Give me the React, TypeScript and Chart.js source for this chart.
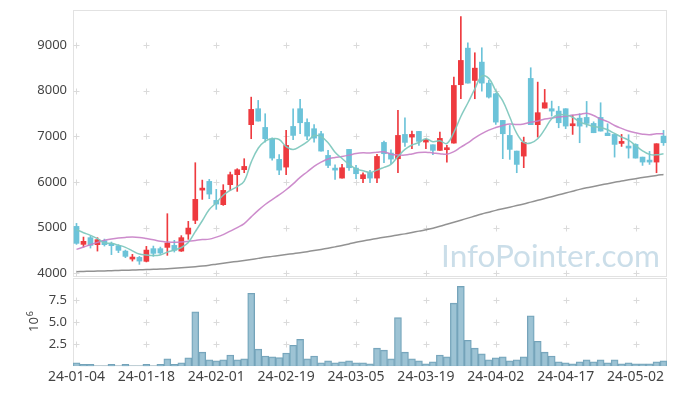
import React, { useEffect, useRef } from "react";
import { Chart, registerables } from "chart.js";

Chart.register(...registerables);

const dates = [
  "24-01-04","24-01-05","24-01-08","24-01-09","24-01-10","24-01-11","24-01-12","24-01-15","24-01-16","24-01-17",
  "24-01-18","24-01-19","24-01-22","24-01-23","24-01-24","24-01-25","24-01-26","24-01-29","24-01-30","24-01-31",
  "24-02-01","24-02-02","24-02-05","24-02-06","24-02-07","24-02-08","24-02-13","24-02-14","24-02-15","24-02-16",
  "24-02-19","24-02-20","24-02-21","24-02-22","24-02-23","24-02-26","24-02-27","24-02-28","24-02-29","24-03-04",
  "24-03-05","24-03-06","24-03-07","24-03-08","24-03-11","24-03-12","24-03-13","24-03-14","24-03-15","24-03-18",
  "24-03-19","24-03-20","24-03-21","24-03-22","24-03-25","24-03-26","24-03-27","24-03-28","24-03-29","24-04-01",
  "24-04-02","24-04-03","24-04-04","24-04-05","24-04-08","24-04-09","24-04-11","24-04-12","24-04-15","24-04-16",
  "24-04-17","24-04-18","24-04-19","24-04-22","24-04-23","24-04-24","24-04-25","24-04-26","24-04-29","24-04-30",
  "24-05-02","24-05-03","24-05-07","24-05-08","24-05-09"
];

const opens = [
  5029,4635,4782,4628,4716,4650,4607,4488,4313,4350,
  4263,4541,4541,4569,4613,4488,4861,5161,5824,6015,
  5599,5505,5943,6162,6271,7257,7607,7197,6950,6497,
  6328,7219,7607,7307,7169,7059,6584,6306,6087,6716,
  6306,6074,6205,6087,6869,6635,6511,7044,6985,7110,
  6876,6818,6694,6709,6854,8133,8934,8227,8628,8168,
  7935,7351,7022,6679,6569,8271,7257,7620,7607,7555,
  7607,7234,7401,7416,7285,7416,7073,7044,6847,6788,
  6825,6547,6460,6438,7007
];
const highs = [
  5095,4795,4817,4782,4751,4686,4628,4510,4416,4372,
  4591,4598,4576,5307,4723,4826,5139,6424,6043,6059,
  5840,5943,6219,6293,6512,7861,7789,7497,6970,6600,
  7132,7607,7811,7388,7257,7110,6694,6380,6387,6716,
  6365,6205,6255,6606,6897,6709,7570,7410,7116,7110,
  6940,6818,7095,6803,8299,9628,9052,8833,8943,8227,
  7950,7351,7241,6679,6985,8505,8190,8030,7774,7657,
  7607,7460,7497,7767,7320,7738,7278,7044,7044,7037,
  6840,6547,6672,6840,7132
];
const lows = [
  4635,4576,4554,4488,4598,4410,4453,4344,4269,4197,
  4250,4372,4416,4394,4467,4480,4745,5088,5621,5636,
  5402,5489,5811,5796,6205,6950,7336,6876,6480,6162,
  6162,6928,7059,6928,6876,6679,6314,6059,6087,6255,
  6074,5986,5986,5986,6424,6402,6205,6781,6731,6803,
  6731,6600,6694,6438,6854,7826,8168,7826,7992,7840,
  7263,6512,6497,6205,6315,7257,6985,7620,7445,7190,
  7169,7044,6862,7204,7081,7117,7016,6547,6781,6525,
  6525,6365,6387,6205,6803
];
const closes = [
  4657,4701,4613,4738,4628,4607,4504,4372,4357,4269,
  4510,4438,4445,4664,4504,4782,4992,5621,5862,5737,
  5518,5818,6162,6271,6343,7592,7336,6950,6525,6262,
  6803,7022,7300,7007,6963,6679,6365,6262,6314,6314,
  6183,6161,6087,6562,6621,6503,7022,6869,7044,6891,
  6928,6694,6957,6753,8117,8665,8168,8496,8168,7861,
  7314,7059,6716,6387,6869,7257,7520,7738,7555,7300,
  7227,7278,7226,7285,7081,7117,7016,6825,6891,6745,
  6525,6438,6438,6840,6862
];

const ma5 = [
  4957,4891,4832,4760,4667,4657,4618,4570,4494,4422,
  4402,4389,4404,4465,4512,4567,4677,4913,5152,5399,
  5546,5711,5819,5901,6022,6437,6741,6898,6949,6933,
  6775,6712,6782,6879,7019,6994,6863,6655,6517,6387,
  6288,6247,6212,6261,6323,6387,6559,6715,6812,6866,
  6951,6885,6903,6845,7090,7437,7732,8040,8323,8272,
  8001,7780,7424,7067,6869,6858,6950,7154,7388,7474,
  7468,7420,7317,7263,7219,7197,7145,7065,6986,6919,
  6800,6685,6607,6597,6621
];
const ma20 = [
  4526,4576,4628,4679,4723,4751,4773,4788,4795,4788,
  4766,4738,4701,4686,4679,4686,4701,4720,4740,4750,
  4793,4849,4926,5003,5089,5238,5380,5509,5617,5717,
  5831,5960,6103,6220,6343,6438,6507,6539,6561,6590,
  6624,6641,6637,6652,6665,6611,6595,6591,6617,6649,
  6655,6638,6621,6609,6666,6766,6856,6967,7060,7138,
  7194,7239,7270,7262,7274,7312,7337,7380,7406,7426,
  7441,7470,7484,7510,7459,7381,7324,7240,7176,7120,
  7081,7050,7036,7059,7058
];
const ma60 = [
  4037,4042,4046,4050,4054,4058,4063,4068,4073,4078,
  4083,4088,4094,4102,4110,4120,4132,4145,4160,4178,
  4200,4222,4242,4262,4282,4304,4328,4352,4372,4392,
  4412,4432,4452,4475,4500,4525,4552,4580,4610,4645,
  4680,4710,4738,4765,4790,4815,4840,4865,4895,4925,
  4955,4990,5030,5075,5120,5165,5210,5255,5300,5340,
  5380,5415,5450,5485,5520,5560,5600,5640,5680,5720,
  5760,5800,5840,5875,5905,5935,5965,5995,6025,6050,
  6075,6100,6120,6145,6165
];

// volume in millions of shares
const volumes = [
  0.39,0.2,0.2,0.05,0.03,0.2,0.03,0.2,0.05,0.05,
  0.2,0.05,0.2,0.83,0.2,0.39,0.94,6.16,1.6,0.72,
  0.61,0.72,1.27,0.72,0.83,8.27,1.94,1.16,1.05,0.98,
  1.5,2.38,3.05,0.83,1.16,0.39,0.61,0.39,0.5,0.61,
  0.39,0.39,0.27,2.05,1.83,0.83,5.5,1.6,0.83,0.61,
  0.27,0.5,1.27,1.05,7.16,9.05,2.94,2.05,1.39,0.72,
  0.94,1.05,0.61,0.72,1.05,5.72,2.83,1.6,1.16,0.5,
  0.39,0.27,0.5,0.72,0.5,0.72,0.39,0.72,0.27,0.39,
  0.27,0.27,0.27,0.5,0.61
];

const priceTicks = [4000, 5000, 6000, 7000, 8000, 9000];
const volumeTicks = [2.5, 5, 7.5];
const xTickEvery = 10;
const watermark = "InfoPointer.com";
const volumeUnit = "10";
const volumeExp = "6";

const UP = "#ee3a3f";
const DOWN = "#6cc3d9";
const FONT = "'Noto Sans', sans-serif";
const TEXT = "#444";

function framePlugin(id: string, yKey: string, yValues: number[]) {
  return {
    id,
    beforeDatasetsDraw(chart: any) {
      const { ctx, chartArea: a } = chart;
      const xs = chart.scales.x;
      const ys = chart.scales[yKey];
      ctx.save();
      ctx.strokeStyle = "#e2e2e2";
      ctx.lineWidth = 1;
      ctx.strokeRect(Math.round(a.left) + 0.5, Math.round(a.top) + 0.5, Math.round(a.right - a.left) - 1, Math.round(a.bottom - a.top) - 1);
      ctx.strokeStyle = "#dadada";
      for (let i = 0; i < dates.length; i += xTickEvery) {
        const px = Math.round(xs.getPixelForValue(i)) + 0.5;
        for (const v of yValues) {
          const py = Math.round(ys.getPixelForValue(v)) + 0.5;
          ctx.beginPath();
          ctx.moveTo(px - 3, py);
          ctx.lineTo(px + 3, py);
          ctx.moveTo(px, py - 3);
          ctx.lineTo(px, py + 3);
          ctx.stroke();
        }
      }
      ctx.restore();
    },
  };
}

const watermarkPlugin = {
  id: "watermark",
  beforeDatasetsDraw(chart: any) {
    const { ctx, chartArea: a } = chart;
    ctx.save();
    ctx.font = "32px Lato, sans-serif";
    const w = ctx.measureText(watermark).width;
    const size = 32 * 219 / w;
    ctx.font = `${size}px Lato, sans-serif`;
    ctx.fillStyle = "rgba(160,195,215,0.55)";
    ctx.textAlign = "right";
    ctx.textBaseline = "alphabetic";
    ctx.fillText(watermark, a.right - 7, a.bottom - 10);
    ctx.restore();
  },
};

const unitPlugin = {
  id: "unit",
  afterDraw(chart: any) {
    const { ctx } = chart;
    ctx.save();
    ctx.translate(38, 55);
    ctx.rotate(-Math.PI / 2);
    ctx.fillStyle = TEXT;
    ctx.textAlign = "left";
    ctx.textBaseline = "alphabetic";
    ctx.font = `13px ${FONT}`;
    ctx.fillText(volumeUnit, 0, 0);
    const w = ctx.measureText(volumeUnit).width;
    ctx.font = `9px ${FONT}`;
    ctx.fillText(volumeExp, w + 1, -5);
    ctx.restore();
  },
};

export default function App() {
  const priceRef = useRef<HTMLCanvasElement>(null);
  const volRef = useRef<HTMLCanvasElement>(null);

  useEffect(() => {
    const colors = closes.map((c, i) => (c >= opens[i] ? UP : DOWN));
    const fitY = (s: any) => { s.width = 73; s.paddingTop = 0; s.paddingBottom = 0; };

    const price = new Chart(priceRef.current as HTMLCanvasElement, {
      type: "bar",
      data: {
        labels: dates,
        datasets: [
          { type: "line", data: ma5, borderColor: "rgba(128,200,190,0.95)", borderWidth: 1.5, pointRadius: 0, tension: 0.4, order: 1 } as any,
          { type: "line", data: ma20, borderColor: "rgba(200,128,198,0.9)", borderWidth: 1.5, pointRadius: 0, tension: 0.4, order: 1 } as any,
          { type: "line", data: ma60, borderColor: "rgba(140,140,140,0.95)", borderWidth: 1.5, pointRadius: 0, tension: 0.4, order: 1 } as any,
          { type: "bar", data: lows.map((l, i) => [l, highs[i]]), backgroundColor: colors, barThickness: 1, grouped: false, order: 3 } as any,
          { type: "bar", data: opens.map((o, i) => [o, closes[i]]), backgroundColor: colors, barThickness: 5, grouped: false, minBarLength: 2, order: 2 } as any,
        ],
      },
      options: {
        animation: false,
        responsive: true,
        maintainAspectRatio: false,
        layout: { padding: { top: 10, bottom: 3, right: 10, left: 0 } },
        plugins: { legend: { display: false }, tooltip: { enabled: false } },
        scales: {
          x: { type: "category", offset: true, display: false },
          y: {
            position: "left",
            min: 3920,
            max: 9770,
            afterFit: fitY,
            afterBuildTicks: (axis: any) => { axis.ticks = priceTicks.map((v) => ({ value: v })); },
            ticks: { color: TEXT, font: { family: FONT, size: 13 }, padding: 6, callback: (v: any) => String(v) },
            grid: { display: false, drawTicks: false },
            border: { display: false },
          },
        },
      } as any,
      plugins: [framePlugin("framePrice", "y", priceTicks), watermarkPlugin],
    });

    const vol = new Chart(volRef.current as HTMLCanvasElement, {
      type: "bar",
      data: {
        labels: dates,
        datasets: [
          { data: volumes, backgroundColor: "rgba(140,184,204,0.85)", borderColor: "#74a3b9", borderWidth: 1, barPercentage: 1, categoryPercentage: 1 } as any,
        ],
      },
      options: {
        animation: false,
        responsive: true,
        maintainAspectRatio: false,
        layout: { padding: { top: 1, bottom: 9, right: 10, left: 0 } },
        plugins: { legend: { display: false }, tooltip: { enabled: false } },
        scales: {
          x: {
            type: "category",
            offset: true,
            afterFit: (s: any) => { s.paddingLeft = 0; s.paddingRight = 0; },
            ticks: {
              autoSkip: false,
              maxRotation: 0,
              minRotation: 0,
              padding: 2,
              color: TEXT,
              font: { family: FONT, size: 14 },
              callback: (_v: any, i: number) => (i % xTickEvery === 0 ? dates[i] : null),
            },
            grid: { display: false, drawTicks: false },
            border: { display: false },
          },
          y: {
            position: "left",
            min: 0,
            max: 10,
            afterFit: fitY,
            afterBuildTicks: (axis: any) => { axis.ticks = volumeTicks.map((v) => ({ value: v })); },
            ticks: { color: TEXT, font: { family: FONT, size: 13 }, padding: 6, callback: (v: any) => Number(v).toFixed(1) },
            grid: { display: false, drawTicks: false },
            border: { display: false },
          },
        },
      } as any,
      plugins: [framePlugin("frameVol", "y", volumeTicks), unitPlugin],
    });

    return () => {
      price.destroy();
      vol.destroy();
    };
  }, []);

  return (
    <div style={{ position: "fixed", left: 0, top: 0, width: 677, height: 396, background: "#fff" }}>
      <div style={{ position: "absolute", left: 0, top: 0, width: 677, height: 280 }}>
        <canvas ref={priceRef} />
      </div>
      <div style={{ position: "absolute", left: 0, top: 277, width: 677, height: 119 }}>
        <canvas ref={volRef} />
      </div>
    </div>
  );
}
